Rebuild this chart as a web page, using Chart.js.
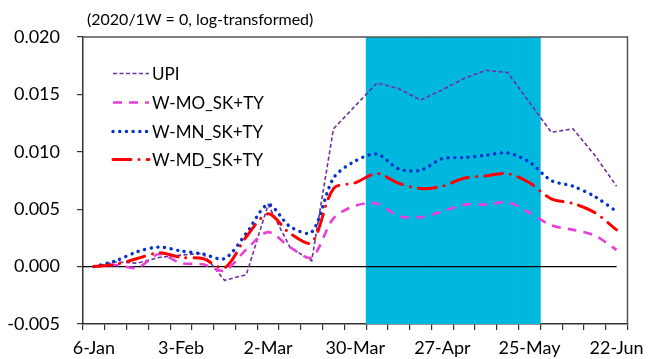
<!DOCTYPE html>
<html>
<head>
<meta charset="utf-8">
<script src="https://cdn.jsdelivr.net/npm/chart.js@4/dist/chart.umd.min.js"></script>
<style>
  html, body { margin: 0; padding: 0; background: #fff; }
  #wrap { width: 651px; height: 359px; }
</style>
</head>
<body>
<div id="wrap"><canvas id="c" width="651" height="359"></canvas></div>
<script>
// Weekly observations, 2020 (first week of the year = 0, log-transformed)
const weeks = ['6-Jan','13-Jan','20-Jan','27-Jan','3-Feb','10-Feb','17-Feb','24-Feb',
  '2-Mar','9-Mar','16-Mar','23-Mar','30-Mar','6-Apr','13-Apr','20-Apr','27-Apr',
  '4-May','11-May','18-May','25-May','1-Jun','8-Jun','15-Jun','22-Jun'];

const upi  = [0, 0.0004, 0.0003, 0.0008, 0.0010, 0.00116, -0.0012, -0.0007, 0.0054, 0.0017, 0.0005,
  0.0120, 0.0140, 0.0160, 0.0155, 0.0145, 0.0154, 0.0164, 0.0171, 0.0169, 0.0143, 0.0117, 0.0120, 0.0097, 0.0070];
const wMO  = [0, 0.00014, -0.0001, 0.0011, 0.0003, 0.0002, -0.00035, 0.0015, 0.0030, 0.0017, 0.0008,
  0.0042, 0.0053, 0.0055, 0.0044, 0.0043, 0.0048, 0.0054, 0.0054, 0.0056, 0.0047, 0.0036, 0.0032, 0.0027, 0.00145];
const wMN  = [0, 0.0005, 0.0013, 0.0017, 0.00136, 0.0011, 0.0007, 0.0029, 0.0054, 0.0035, 0.0030,
  0.0077, 0.0092, 0.0098, 0.0085, 0.0084, 0.0094, 0.0095, 0.0097, 0.0099, 0.0091, 0.0075, 0.0070, 0.0061, 0.0048];
const wMD  = [0, 0.0002, 0.0007, 0.0012, 0.0008, 0.0007, -0.0001, 0.0026, 0.0046, 0.0029, 0.0021,
  0.0068, 0.0073, 0.0081, 0.00725, 0.0068, 0.0070, 0.0077, 0.0079, 0.0081, 0.0073, 0.0059, 0.0055, 0.0047, 0.0032];

const seriesNames = ['UPI', 'W-MO_SK+TY', 'W-MN_SK+TY', 'W-MD_SK+TY'];
const xTickEvery = 4;
const yMin = -0.005, yMax = 0.020, yStep = 0.005;
const shadedFrom = '6-Apr', shadedTo = '25-May';
const subtitle = '(2020/1W = 0, log-transformed)';

const FONT = 'Lato, "Open Sans", sans-serif';

// shaded period as full-height floating bars
const i0 = weeks.indexOf(shadedFrom), i1 = weeks.indexOf(shadedTo);
const shade = weeks.map((_, i) => (i >= i0 && i <= i1) ? [yMin, yMax] : null);

// thin black reference line at zero, drawn right above the shaded band
const zeroLine = {
  id: 'zeroLine',
  afterDatasetDraw(chart, args) {
    if (args.index !== 0) return;
    const { ctx, chartArea, scales } = chart;
    const y = scales.y.getPixelForValue(0);
    const xEnd = scales.x.getPixelForValue(weeks.length - 1);
    ctx.save();
    ctx.strokeStyle = '#000';
    ctx.lineWidth = 1.2;
    ctx.beginPath();
    ctx.moveTo(chartArea.left, y);
    ctx.lineTo(xEnd, y);
    ctx.stroke();
    ctx.restore();
  }
};

// top and right edges of the plot frame
const frame = {
  id: 'frame',
  afterDraw(chart) {
    const { ctx, chartArea: a } = chart;
    ctx.save();
    ctx.strokeStyle = '#555';
    ctx.lineWidth = 1.5;
    ctx.beginPath();
    ctx.moveTo(a.left, a.top);
    ctx.lineTo(a.right, a.top);
    ctx.lineTo(a.right, a.bottom);
    ctx.stroke();
    ctx.restore();
  }
};

// in-plot legend and the caption above the frame
const annotations = {
  id: 'annotations',
  afterDraw(chart) {
    const { ctx, chartArea: a } = chart;
    ctx.save();
    ctx.fillStyle = '#000';
    ctx.font = '16px ' + FONT;
    ctx.textBaseline = 'middle';
    ctx.textAlign = 'left';
    ctx.fillText(subtitle, a.left + 4, 20);

    ctx.font = '17px ' + FONT;
    const x0 = a.left + 30, x1 = a.left + 66;
    const rows = [73.5, 102.5, 131.5, 159.5];
    chart.data.datasets.filter(d => d.type === 'line').forEach((d, k) => {
      const y = rows[k];
      ctx.save();
      ctx.strokeStyle = d.borderColor;
      ctx.lineWidth = d.borderWidth;
      ctx.lineCap = d.borderCapStyle || 'butt';
      ctx.setLineDash(d.borderDash || []);
      ctx.beginPath();
      ctx.moveTo(x0, y);
      ctx.lineTo(x1, y);
      ctx.stroke();
      ctx.restore();
      ctx.fillText(d.label, x1 + 3, y + 1);
    });
    ctx.restore();
  }
};

new Chart(document.getElementById('c'), {
  data: {
    labels: weeks,
    datasets: [
      { type: 'bar', label: 'shade', data: shade, backgroundColor: '#00B8DE',
        barPercentage: 1, categoryPercentage: 1, borderWidth: 0, order: 10 },
      { type: 'line', label: seriesNames[0], data: upi, borderColor: '#7030A0',
        borderWidth: 1.6, borderDash: [4, 2.5], tension: 0, pointRadius: 0, order: 4 },
      { type: 'line', label: seriesNames[1], data: wMO, borderColor: '#E840D8',
        borderWidth: 2.6, borderDash: [9, 7], tension: 0.3, pointRadius: 0, order: 3 },
      { type: 'line', label: seriesNames[2], data: wMN, borderColor: '#0033CC',
        borderWidth: 3.4, borderDash: [0.1, 6.6], borderCapStyle: 'round',
        tension: 0.3, pointRadius: 0, order: 2 },
      { type: 'line', label: seriesNames[3], data: wMD, borderColor: '#FF0000',
        borderWidth: 3, borderDash: [18, 8, 0.1, 8], borderCapStyle: 'round',
        tension: 0.3, pointRadius: 0, order: 1 }
    ]
  },
  options: {
    responsive: false,
    animation: false,
    events: [],
    layout: { padding: { left: 0, top: 37, right: 20, bottom: 0 } },
    plugins: { legend: { display: false }, tooltip: { enabled: false } },
    scales: {
      x: {
        offset: true,
        grid: { offset: true, drawOnChartArea: false, drawTicks: true, tickLength: 6, color: '#333', lineWidth: 1.2 },
        border: { display: true, color: '#333', width: 1.5 },
        ticks: {
          autoSkip: false, maxRotation: 0, padding: 7, color: '#000',
          font: { family: FONT, size: 18 },
          callback: (v, i) => (i % xTickEvery === 0 ? weeks[i] : '')
        },
        afterFit(s) { s.height = 35; }
      },
      y: {
        min: yMin, max: yMax,
        grid: { drawOnChartArea: false, drawTicks: true, tickLength: 6, color: '#333', lineWidth: 1.2 },
        border: { display: true, color: '#333', width: 1.5 },
        ticks: {
          stepSize: yStep, padding: 17, color: '#000',
          font: { family: FONT, size: 18 },
          callback: v => Number(v).toFixed(3)
        },
        afterFit(s) { s.width = 83; }
      }
    }
  },
  plugins: [zeroLine, frame, annotations]
});
</script>
</body>
</html>
